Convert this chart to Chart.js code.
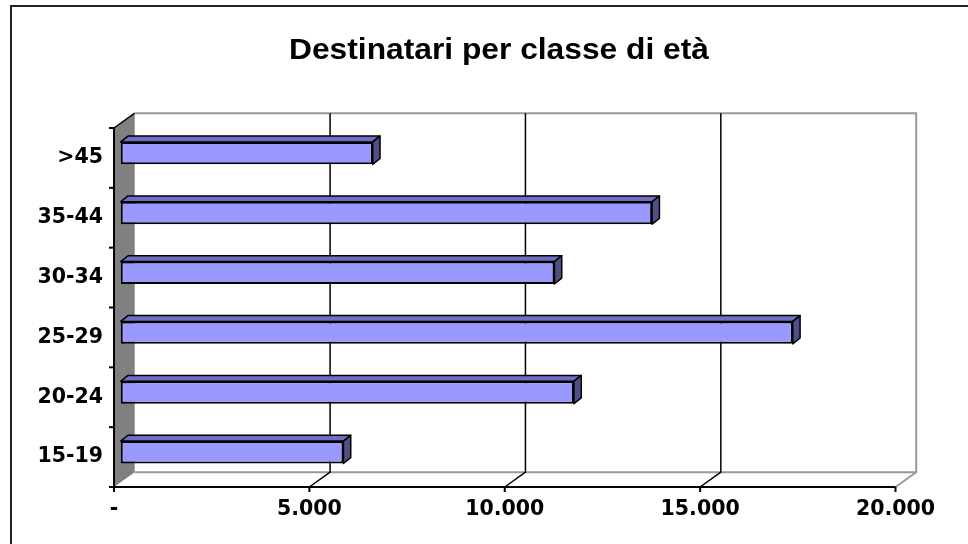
<!DOCTYPE html>
<html>
<head>
<meta charset="utf-8">
<script src="https://cdn.jsdelivr.net/npm/chart.js@4"></script>
<style>
  body { margin: 0; background: #fff; }
  canvas { display: block; }
</style>
</head>
<body>
<canvas id="age-chart" width="968" height="544"></canvas>
<script>
// data
const categories = ['15-19', '20-24', '25-29', '30-34', '35-44', '>45'];
const recipients = [5700, 11600, 17200, 11100, 13600, 6450];
const xTicks = [0, 5000, 10000, 15000, 20000];
const xTickLabels = ['-', '5.000', '10.000', '15.000', '20.000'];
const chartTitle = 'Destinatari per classe di età';

// 3D offsets relative to the plane the bars sit in
const FRONT = { dx: -6.7, dy: 4.8 };
const BACK = { dx: 14, dy: -10 };
const DEPTH = { dx: 7.3, dy: 5.8 };
const labelFont = 'bold 20.5px Verdana, "DejaVu Sans", sans-serif';

const threeD = {
    id: 'threeD',
    beforeDatasetsDraw(chart) {
        const ctx = chart.ctx;
        const area = chart.chartArea;
        const x = chart.scales.x;
        const y = chart.scales.y;
        const fl = area.left + FRONT.dx, fr = x.getPixelForValue(20000) + FRONT.dx;
        const ft = area.top + FRONT.dy, fb = area.bottom + FRONT.dy;
        const bl = area.left + BACK.dx, br = x.getPixelForValue(20000) + BACK.dx;
        const bt = area.top + BACK.dy, bb = area.bottom + BACK.dy;

        ctx.save();
        // outer frame
        ctx.strokeStyle = '#222';
        ctx.lineWidth = 2;
        ctx.strokeRect(11, 6, 1000, 600);

        // title
        ctx.fillStyle = '#000';
        ctx.font = 'bold 29px "Liberation Sans", Arial, sans-serif';
        ctx.textAlign = 'center';
        ctx.textBaseline = 'alphabetic';
        const w = ctx.measureText(chartTitle).width;
        ctx.translate(499, 58.5);
        ctx.scale(420 / w, 1);
        ctx.fillText(chartTitle, 0, 0);
        ctx.setTransform(1, 0, 0, 1, 0, 0);

        // left wall
        ctx.fillStyle = '#808080';
        ctx.beginPath();
        ctx.moveTo(fl, ft); ctx.lineTo(bl, bt); ctx.lineTo(bl, bb); ctx.lineTo(fl, fb);
        ctx.closePath();
        ctx.fill();
        ctx.strokeStyle = '#000';
        ctx.lineWidth = 1.5;
        ctx.beginPath();
        ctx.moveTo(fl, ft); ctx.lineTo(bl, bt);
        ctx.stroke();

        // back wall and floor outline
        ctx.strokeStyle = '#999';
        ctx.lineWidth = 2;
        ctx.beginPath();
        ctx.moveTo(bl, bt); ctx.lineTo(br, bt); ctx.lineTo(br, bb); ctx.lineTo(bl, bb);
        ctx.moveTo(br, bb); ctx.lineTo(fr, fb);
        ctx.stroke();

        // grid lines on back wall and floor
        ctx.strokeStyle = '#000';
        ctx.lineWidth = 1.5;
        xTicks.slice(1, -1).forEach(v => {
            const px = x.getPixelForValue(v);
            ctx.beginPath();
            ctx.moveTo(px + BACK.dx, bt);
            ctx.lineTo(px + BACK.dx, bb);
            ctx.lineTo(px + FRONT.dx, fb);
            ctx.stroke();
        });

        // front axes
        ctx.lineWidth = 2;
        ctx.beginPath();
        ctx.moveTo(fl, ft); ctx.lineTo(fl, fb); ctx.lineTo(fr, fb);
        ctx.stroke();

        // x ticks and labels
        ctx.font = labelFont;
        ctx.fillStyle = '#000';
        ctx.textAlign = 'center';
        ctx.textBaseline = 'middle';
        xTicks.forEach((v, i) => {
            const px = x.getPixelForValue(v) + FRONT.dx;
            ctx.beginPath();
            ctx.moveTo(px, fb); ctx.lineTo(px, fb + 5);
            ctx.stroke();
            ctx.fillText(xTickLabels[i], px, fb + 23);
        });

        // y ticks and labels
        const band = (area.bottom - area.top) / categories.length;
        for (let i = 0; i <= categories.length; i++) {
            const py = area.top + i * band + FRONT.dy;
            ctx.beginPath();
            ctx.moveTo(fl - 5, py); ctx.lineTo(fl, py);
            ctx.stroke();
        }
        ctx.textAlign = 'right';
        categories.forEach((c, i) => {
            const py = y.getPixelForValue(i) + FRONT.dy;
            ctx.fillText(c, 103, py);
        });
        ctx.restore();
    },
    afterDatasetsDraw(chart) {
        const ctx = chart.ctx;
        ctx.save();
        ctx.strokeStyle = '#000';
        ctx.lineWidth = 1.5;
        ctx.lineJoin = 'round';
        chart.getDatasetMeta(0).data.forEach(bar => {
            const top = bar.y - bar.height / 2;
            const bottom = bar.y + bar.height / 2;
            // top face
            ctx.fillStyle = '#6E6EC4';
            ctx.beginPath();
            ctx.moveTo(bar.base, top);
            ctx.lineTo(bar.base + DEPTH.dx, top - DEPTH.dy);
            ctx.lineTo(bar.x + DEPTH.dx, top - DEPTH.dy);
            ctx.lineTo(bar.x, top);
            ctx.closePath();
            ctx.fill();
            ctx.stroke();
            // side face
            ctx.fillStyle = '#4F4F85';
            ctx.beginPath();
            ctx.moveTo(bar.x, top);
            ctx.lineTo(bar.x + DEPTH.dx, top - DEPTH.dy);
            ctx.lineTo(bar.x + DEPTH.dx, bottom - DEPTH.dy);
            ctx.lineTo(bar.x, bottom);
            ctx.closePath();
            ctx.fill();
            ctx.stroke();
        });
        ctx.restore();
    }
};

const ctx = document.getElementById('age-chart').getContext('2d');
new Chart(ctx, {
    type: 'bar',
    data: {
        labels: categories,
        datasets: [{
            data: recipients,
            backgroundColor: '#9999FF',
            borderColor: '#000',
            borderWidth: 2,
            borderSkipped: false,
            categoryPercentage: 1,
            barPercentage: 0.375
        }]
    },
    options: {
        indexAxis: 'y',
        responsive: false,
        animation: false,
        devicePixelRatio: 1,
        layout: {
            padding: { left: 120.7, right: 65.8, top: 123.2, bottom: 61.8 }
        },
        scales: {
            x: { min: 0, max: 20000, display: false },
            y: { reverse: true, display: false }
        },
        plugins: {
            legend: { display: false },
            tooltip: { enabled: false },
            title: { display: false }
        }
    },
    plugins: [threeD]
});
</script>
</body>
</html>
